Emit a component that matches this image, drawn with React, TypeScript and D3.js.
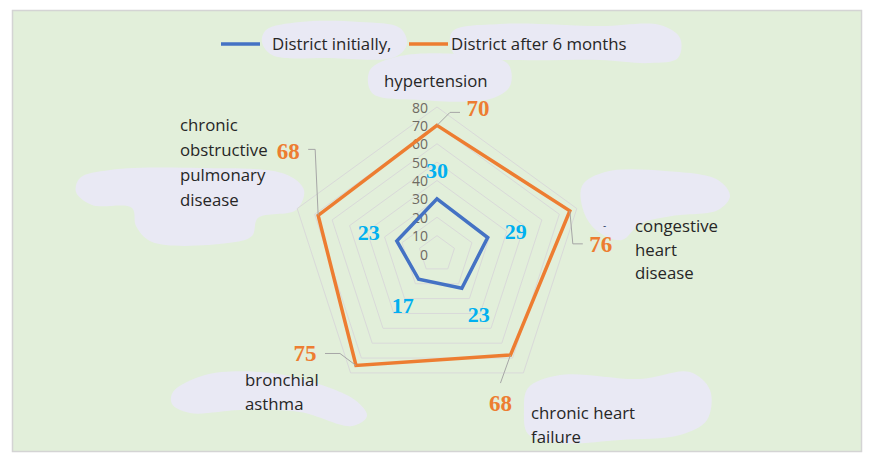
import React from "react";
import * as d3 from "d3";

const categories = [
  ["hypertension"],
  ["congestive", "heart", "disease"],
  ["chronic heart", "failure"],
  ["bronchial", "asthma"],
  ["chronic", "obstructive", "pulmonary", "disease"],
];
const seriesNames = ["District initially,", "District after 6 months"];
const initial = [30, 29, 23, 17, 23];
const after6 = [70, 76, 68, 75, 68];
const ticks = [0, 10, 20, 30, 40, 50, 60, 70, 80];

const W = 874, H = 465;
const cx = 437, cy = 254, R = 147;
const BLUE = "#4472c4", ORANGE = "#ed7d31", CYAN = "#00b0f0";
const BLOB = "#e9e9f4";
const FONT = "'Open Sans', 'Noto Sans', sans-serif";
const SERIF = "'Liberation Serif', 'DejaVu Serif', serif";
const TXT = "#262626";

const r = d3.scaleLinear().domain([0, 80]).range([0, R]);
const angle = (i: number) => (i * 2 * Math.PI) / categories.length;
const pt = (i: number, v: number): [number, number] => [
  cx + r(v) * Math.sin(angle(i)),
  cy - r(v) * Math.cos(angle(i)),
];

// label offsets (style)
const blueOff: [number, number][] = [[0, -28], [28, -6], [17, 26], [-16, 26], [-28, -8]];
const orangeOff: [number, number][] = [[41, -17], [31, 34], [-10, 48], [-51, -12], [-30, -64]];
// leader line bends relative to vertex
const leaders: [number, number][][] = [
  [[13, -13], [23, -13]],
  [[3, 33], [13, 33]],
  [[-10, 28]],
  [[-16, -12], [-31, -12]],
  [[-3, -66], [-10, -66]],
];

// category label anchor (left x, first baseline y) — layout
const catPos: [number, number][] = [
  [384, 87],
  [635, 232],
  [531, 419],
  [245, 386],
  [180, 131],
];

const blobs: [number, number][][] = [
  [[266, 30], [300, 22], [360, 22], [400, 28], [407, 44], [395, 57], [330, 58], [272, 55], [262, 42]],
  [[452, 32], [500, 24], [600, 26], [660, 25], [680, 38], [678, 58], [650, 63], [600, 60], [520, 60], [455, 55]],
  [[370, 70], [400, 56], [470, 55], [508, 64], [510, 86], [490, 99], [420, 100], [372, 93]],
  [[80, 178], [110, 170], [200, 168], [285, 174], [304, 190], [296, 210], [258, 218], [252, 236], [228, 243], [152, 242], [136, 226], [132, 208], [92, 205], [76, 192]],
  [[582, 186], [605, 172], [665, 171], [718, 180], [730, 196], [718, 210], [672, 216], [640, 224], [622, 240], [600, 233], [585, 215]],
  [[173, 392], [205, 375], [260, 372], [305, 380], [355, 400], [367, 416], [352, 426], [300, 412], [240, 410], [190, 413], [172, 404]],
  [[528, 388], [560, 375], [640, 379], [690, 372], [710, 390], [707, 420], [680, 435], [620, 440], [560, 443], [528, 434], [524, 410]],
];

export default function App() {
  const blobLine = d3.line().curve(d3.curveCatmullRomClosed.alpha(0.5));
  const radarLine = d3.line().curve(d3.curveLinearClosed);
  const gridPoly = (v: number) => radarLine(categories.map((_, i) => pt(i, v))) as string;
  const bluePts = initial.map((v, i) => pt(i, v));
  const orangePts = after6.map((v, i) => pt(i, v));

  return (
    <svg width={W} height={H} style={{ position: "absolute", left: 0, top: 0 }} fontFamily={FONT}>
      <rect x={0} y={0} width={W} height={H} fill="#ffffff" />
      <rect x={12.5} y={10.5} width={849} height={441} fill="#e2efda" stroke="#d4d4d4" strokeWidth={1.5} />
      {blobs.map((b, i) => (
        <path key={i} d={blobLine(b) as string} fill={BLOB} />
      ))}
      {ticks.slice(1).map((t) => (
        <path key={t} d={gridPoly(t)} fill="none" stroke="#d9d9d9" strokeWidth={1} />
      ))}
      {ticks.map((t) => (
        <text key={t} x={cx - 9} y={cy - r(t)} textAnchor="end" dominantBaseline="central" fontSize={14} fill="#6f6a62">
          {t}
        </text>
      ))}
      <path d={radarLine(bluePts) as string} fill="none" stroke={BLUE} strokeWidth={3.5} strokeLinejoin="miter" />
      <path d={radarLine(orangePts) as string} fill="none" stroke={ORANGE} strokeWidth={3.5} strokeLinejoin="miter" />
      {orangePts.map((p, i) => (
        <polyline key={i} points={[p, ...leaders[i].map(([dx, dy]) => [p[0] + dx, p[1] + dy])].map((q) => q.join(",")).join(" ")} fill="none" stroke="#a6a6a6" strokeWidth={1} />
      ))}
      {bluePts.map((p, i) => (
        <text key={i} x={p[0] + blueOff[i][0]} y={p[1] + blueOff[i][1]} textAnchor="middle" dominantBaseline="central" fontFamily={SERIF} fontWeight="bold" fontSize={22} fill={CYAN}>
          {initial[i]}
        </text>
      ))}
      {orangePts.map((p, i) => (
        <text key={i} x={p[0] + orangeOff[i][0]} y={p[1] + orangeOff[i][1]} textAnchor="middle" dominantBaseline="central" fontFamily={SERIF} fontWeight="bold" fontSize={23} fill={ORANGE}>
          {after6[i]}
        </text>
      ))}
      {categories.map((lines, i) => (
        <text key={i} x={catPos[i][0]} y={catPos[i][1]} fontSize={16.8} fill={TXT}>
          {lines.map((l, j) => (
            <tspan key={j} x={catPos[i][0]} dy={j === 0 ? 0 : i === 4 ? 25 : 23.5}>
              {l}
            </tspan>
          ))}
        </text>
      ))}
      <text x={603} y={229} fontSize={10} fill="#1f3864">-</text>
      {/* legend */}
      <line x1={221} x2={260} y1={44} y2={44} stroke={BLUE} strokeWidth={3.5} />
      <text x={272} y={50} fontSize={16.8} fill={TXT}>{seriesNames[0]}</text>
      <line x1={409} x2={448} y1={44} y2={44} stroke={ORANGE} strokeWidth={3.5} />
      <text x={451} y={50} fontSize={16.8} fill={TXT}>{seriesNames[1]}</text>
    </svg>
  );
}
